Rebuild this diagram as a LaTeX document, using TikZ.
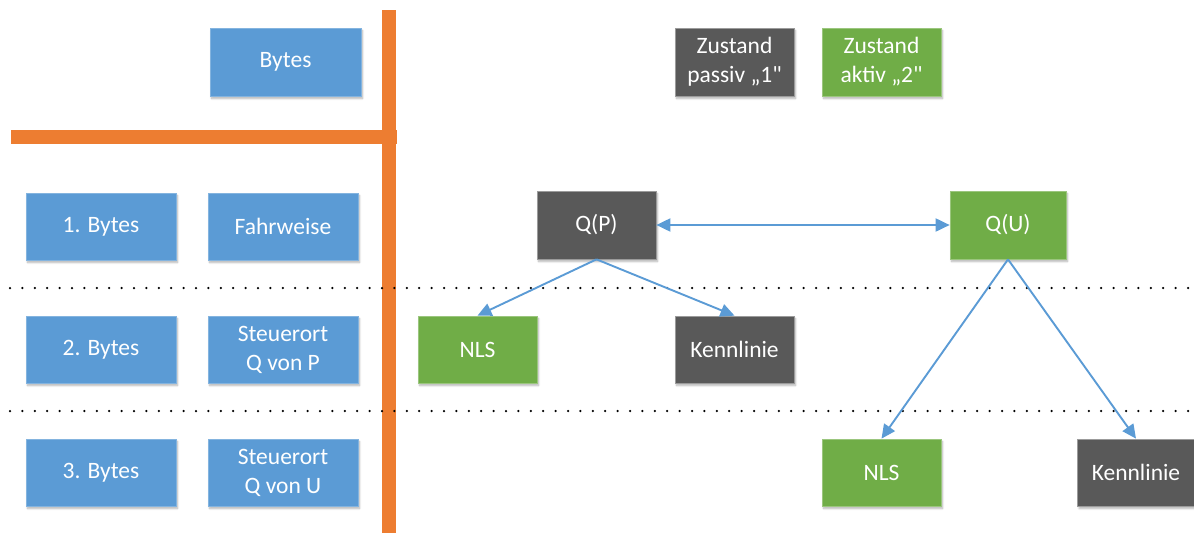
\documentclass[tikz,border=0pt]{standalone}
\usepackage{fontspec}
\setmainfont{Carlito}[Ligatures=TeXOff]
\usetikzlibrary{arrows.meta,shadows.blur}
\definecolor{cblue}{HTML}{5B9BD5}
\definecolor{cgray}{HTML}{595959}
\definecolor{cgreen}{HTML}{70AD47}
\definecolor{corange}{HTML}{ED7D31}
\tikzset{
  box/.style={rectangle, inner sep=0pt, text=white, align=center,
    font=\fontsize{23.5}{29}\selectfont, line width=0.7pt,
    blur shadow={shadow blur steps=6, shadow xshift=1.5pt, shadow yshift=-2.5pt, shadow opacity=30}},
  bluebox/.style={box, fill=cblue, draw=cblue!75!white, minimum width=150pt, minimum height=67pt},
  graybox/.style={box, fill=cgray, draw=cgray!60!white, minimum width=119pt, minimum height=67pt},
  greenbox/.style={box, fill=cgreen, draw=cgreen!70!white, minimum width=119pt, minimum height=67pt},
  orangeline/.style={draw=corange, line width=14pt},
  dotline/.style={draw=black, line width=2.5pt, line cap=round, dash pattern=on 0pt off 12.4pt},
  conn/.style={draw=cblue, line width=1.9pt, -{Triangle[length=14pt,width=13pt]}},
  conn2/.style={draw=cblue, line width=1.9pt, {Triangle[length=14pt,width=13pt]}-{Triangle[length=14pt,width=13pt]}},
}
\begin{document}
\begin{tikzpicture}[x=1pt,y=-1pt]
\useasboundingbox (0,0) rectangle (1194,533);
% orange separators
\coordinate (vtop) at (389,10);
\coordinate (vbot) at (389,533);
\coordinate (hl) at (11,137);
\coordinate (hr) at (397,137);
\draw[orangeline] (vtop) -- (vbot);
\draw[orangeline] (hl) -- (hr);
% dotted lines
\coordinate (d1l) at (10,288);
\coordinate (d1r) at (1194,288);
\coordinate (d2l) at (10,411);
\coordinate (d2r) at (1194,411);
\draw[dotline] (d1l) -- (d1r);
\draw[dotline] (d2l) -- (d2r);
% left column
\node[bluebox, minimum width=151pt, minimum height=68pt] (bytes) at (285.5,62) {Bytes};
\node[bluebox] (b1) at (101,226.5) {1. Bytes};
\node[bluebox] (fw) at (283,226.5) {Fahrweise};
\node[bluebox] (b2) at (101,349.5) {2. Bytes};
\node[bluebox] (sp) at (283,349.5) {Steuerort\\Q von P};
\node[bluebox] (b3) at (101,472.5) {3. Bytes};
\node[bluebox] (su) at (283,472.5) {Steuerort\\Q von U};
% legend
\node[graybox, minimum height=68pt] (passiv) at (734.5,62) {Zustand\\passiv „1"};
\node[greenbox, minimum height=68pt] (aktiv) at (881.5,62) {Zustand\\aktiv „2"};
% diagram
\node[graybox, minimum height=68pt] (qp) at (596.5,225) {Q(P)};
\node[greenbox, minimum width=116pt, minimum height=68pt] (qu) at (1008,225) {Q(U)};
\node[greenbox] (nls1) at (477.5,349.5) {NLS};
\node[graybox] (kl1) at (734.5,349.5) {Kennlinie};
\node[greenbox] (nls2) at (881.5,472.5) {NLS};
\node[graybox, minimum width=117pt] (kl2) at (1136,472.5) {Kennlinie};
% connectors
\draw[conn2] (qp.east) -- (qu.west);
\draw[conn] (qp.south) -- (nls1.north);
\draw[conn] (qp.south) -- (kl1.north);
\draw[conn] (qu.south) -- (nls2.north);
\draw[conn] (qu.south) -- (kl2.north);
\end{tikzpicture}
\end{document}
